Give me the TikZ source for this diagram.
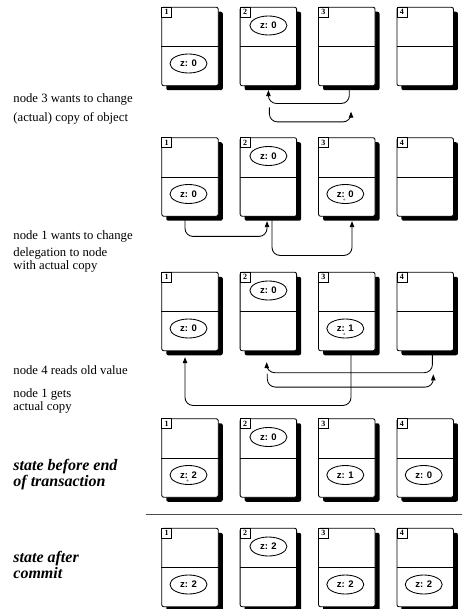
\documentclass[tikz,border=0pt]{standalone}
\usepackage{fontspec}
\setmainfont{Liberation Serif}
\newfontfamily\labelsans{Liberation Sans}
\usetikzlibrary{arrows.meta,shapes.geometric,calc,shadows}

\begin{document}
\begin{tikzpicture}[x=1pt,y=-1pt,line width=0.85pt,
  cell/.style={draw, fill=white, rounded corners=2pt, minimum width=56.5pt,
    minimum height=78.5pt, inner sep=0pt,
    drop shadow={shadow xshift=4.5pt, shadow yshift=-4.5pt, fill=black, opacity=1}},
  divider/.style={draw, line width=0.85pt},
  tag/.style={draw, fill=white, minimum size=10pt, inner sep=0pt, line width=0.6pt,
    font=\bfseries\fontsize{8}{8}\selectfont},
  val/.style={draw, fill=white, ellipse, minimum width=37pt, minimum height=19pt,
    inner sep=0pt, font=\labelsans\bfseries\fontsize{9.5}{9.5}\selectfont},
  speck/.style={fill=black!45},
  flow/.style={draw, rounded corners=8pt, -{Triangle[length=6pt,width=4.5pt]}},
  note/.style={anchor=base west, inner sep=0pt, align=left,
    font=\fontsize{12.7}{10.5}\selectfont},
  stage/.style={anchor=base west, inner sep=0pt, align=left,
    font=\bfseries\itshape\fontsize{16}{14.5}\selectfont},
  sepline/.style={draw, black!70, line width=0.9pt}]

\useasboundingbox (0,0) rectangle (462,609);

% five rows of four nodes, each with a shadowed card split in two halves
\foreach \r/\y in {1/46.5, 2/177, 3/311.5, 4/458, 5/567.5} {
  \foreach \c/\x in {1/190, 2/268.4, 3/346.8, 4/425.2} {
    \node[cell] (b\r\c) at (\x,\y) {};
    \draw[divider] (b\r\c.west) -- (b\r\c.east);
    \node[tag, anchor=north west] (n\r\c) at (b\r\c.north west) {\c};
  }
}

% object copies (home copy in the upper half of node 2)
\node[val] (v11) at ($(b11.center)+(-1.5,17)$) {z: 0};
\node[val] (v12) at ($(b12.center)+(0,-21)$) {z: 0};

\node[val] (v21) at ($(b21.center)+(-1.5,17)$) {z: 0};
\node[val] (v22) at ($(b22.center)+(0,-21)$) {z: 0};
\node[val] (v23) at ($(b23.center)+(-1.5,17)$) {z: 0};
\fill[speck] ($(v23.center)+(-1,5.5)$) circle (1.1pt);

\node[val] (v31) at ($(b31.center)+(-1.5,17)$) {z: 0};
\node[val] (v32) at ($(b32.center)+(0,-21)$) {z: 0};
\node[val] (v33) at ($(b33.center)+(-1.5,17)$) {z: 1};
\fill[speck] ($(v33.center)+(-1,5.5)$) circle (1.1pt);

\node[val] (v41) at ($(b41.center)+(-1.5,17)$) {z: 2};
\fill[speck] ($(v41.center)+(-1,5.5)$) circle (1.1pt);
\node[val] (v42) at ($(b42.center)+(0,-21)$) {z: 0};
\node[val] (v43) at ($(b43.center)+(-1.5,17)$) {z: 1};
\node[val] (v44) at ($(b44.center)+(-1.5,17)$) {z: 0};

\node[val] (v51) at ($(b51.center)+(-1.5,17)$) {z: 2};
\node[val] (v52) at ($(b52.center)+(0,-21)$) {z: 2};
\node[val] (v53) at ($(b53.center)+(-1.5,17)$) {z: 2};
\node[val] (v54) at ($(b54.center)+(-1.5,17)$) {z: 2};

% row 1: node 3 asks the home node, which hands the copy back
\draw[flow] ($(b13.south)+(2.5,0)$) -- ++(0,17.3) -| ($(b12.south)+(0,4)$);
\coordinate (a2s) at ($(b12.south)+(1,21.3)$);
\draw[flow] (a2s) -- ++(0,14.4) -| ($(b13.south)+(4.2,25.5)$);

% row 2: node 1 asks the home node, which delegates to node 3
\draw[flow] ($(b21.south)+(-5,0)$) -- ++(0,19.75) -| ($(b22.south)+(-1.4,4.5)$);
\draw[flow] ($(b22.south)+(3.6,0)$) -- ++(0,38.75) -| ($(b23.south)+(5.2,4.5)$);

% row 3: node 4 reads, node 3 passes its copy to node 1
\draw[flow] ($(b34.south)+(7.2,0)$) -- ++(0,21.5) -| ($(b32.south)+(-1.7,11)$);
\coordinate (c2s) at ($(b32.south)+(-1.1,22.5)$);
\draw[flow] (c2s) -- ++(0,13.4) -| ($(b34.south)+(8.1,23.2)$);
\draw[flow] ($(b33.south)+(4.2,0)$) -- ++(0,54.25) -| ($(b31.south)+(-5,6)$);

% separator between the transaction states
\coordinate (sepl) at (146,514);
\coordinate (sepr) at (462,514);
\draw[sepline] (sepl) -- (sepr);

% captions (two-line captions are placed by the baseline of their last line)
\node[note] (t1) at (13,102.5) {node 3 wants to change};
\node[note] (t2) at (13,121.5) {(actual) copy of object};
\node[note] (t3) at (13,240) {node 1 wants to change};
\node[note] (t4) at (13,269.5) {delegation to node\\with actual copy};
\node[note] (t6) at (13,374) {node 4 reads old value};
\node[note] (t7) at (13,410.5) {node 1 gets\\actual copy};
\node[stage] (s1) at (13,486.5) {state before end\\of transaction};
\node[stage] (s3) at (13,578) {state after\\commit};
\end{tikzpicture}
\end{document}
